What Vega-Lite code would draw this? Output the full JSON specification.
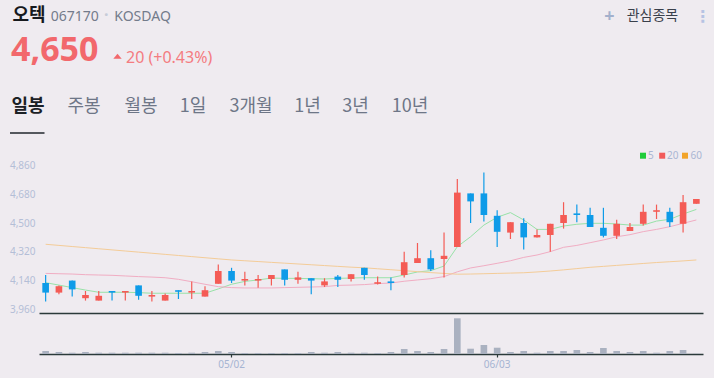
{
"$schema": "https://vega.github.io/schema/vega-lite/v6.json",
"width": 714, "height": 378,
"autosize": {"type": "none"},
"padding": 0,
"background": "#efebf0",
"config": {"view": {"stroke": null}, "font": "Noto Sans", "axis": {"labelFont": "Noto Sans"}},
"datasets": {"stock": [
{"d":"04/11","o":4125,"h":4175,"l":4010,"c":4065,"v":300,"5":4127,"20":4185,"60":4367},
{"d":"04/12","o":4065,"h":4110,"l":4055,"c":4105,"v":200,"5":4112,"20":4183,"60":4360},
{"d":"04/15","o":4140,"h":4140,"l":4040,"c":4085,"v":130,"5":4096,"20":4181,"60":4353},
{"d":"04/16","o":4030,"h":4075,"l":4015,"c":4050,"v":200,"5":4081,"20":4177,"60":4346},
{"d":"04/17","o":4015,"h":4075,"l":4015,"c":4045,"v":130,"5":4067,"20":4175,"60":4339},
{"d":"04/18","o":4075,"h":4075,"l":4015,"c":4065,"v":130,"5":4067,"20":4173,"60":4332},
{"d":"04/19","o":4065,"h":4075,"l":4015,"c":4075,"v":130,"5":4067,"20":4169,"60":4325},
{"d":"04/22","o":4110,"h":4110,"l":4020,"c":4045,"v":130,"5":4065,"20":4165,"60":4318},
{"d":"04/23","o":4040,"h":4075,"l":4010,"c":4050,"v":130,"5":4061,"20":4162,"60":4311},
{"d":"04/24","o":4015,"h":4060,"l":4015,"c":4050,"v":130,"5":4061,"20":4158,"60":4304},
{"d":"04/25","o":4080,"h":4080,"l":4025,"c":4070,"v":100,"5":4061,"20":4148,"60":4297},
{"d":"04/26","o":4065,"h":4135,"l":4025,"c":4075,"v":130,"5":4061,"20":4133,"60":4290},
{"d":"04/29","o":4040,"h":4105,"l":4040,"c":4080,"v":200,"5":4061,"20":4117,"60":4283},
{"d":"04/30","o":4120,"h":4240,"l":4120,"c":4200,"v":300,"5":4088,"20":4102,"60":4276},
{"d":"05/02","o":4200,"h":4220,"l":4125,"c":4140,"v":200,"5":4117,"20":4096,"60":4269},
{"d":"05/03","o":4140,"h":4195,"l":4110,"c":4150,"v":100,"5":4135,"20":4094,"60":4264},
{"d":"05/07","o":4140,"h":4175,"l":4095,"c":4150,"v":100,"5":4144,"20":4094,"60":4259},
{"d":"05/08","o":4150,"h":4175,"l":4110,"c":4175,"v":100,"5":4156,"20":4094,"60":4254},
{"d":"05/09","o":4210,"h":4210,"l":4110,"c":4145,"v":100,"5":4154,"20":4096,"60":4249},
{"d":"05/10","o":4145,"h":4195,"l":4120,"c":4160,"v":100,"5":4154,"20":4098,"60":4244},
{"d":"05/13","o":4155,"h":4155,"l":4055,"c":4140,"v":200,"5":4152,"20":4100,"60":4239},
{"d":"05/14","o":4110,"h":4155,"l":4100,"c":4135,"v":130,"5":4150,"20":4102,"60":4234},
{"d":"05/16","o":4165,"h":4175,"l":4100,"c":4145,"v":200,"5":4154,"20":4110,"60":4229},
{"d":"05/17","o":4150,"h":4180,"l":4135,"c":4180,"v":130,"5":4156,"20":4112,"60":4224},
{"d":"05/20","o":4220,"h":4220,"l":4145,"c":4175,"v":130,"5":4158,"20":4115,"60":4220},
{"d":"05/21","o":4120,"h":4165,"l":4115,"c":4130,"v":100,"5":4158,"20":4121,"60":4214},
{"d":"05/22","o":4135,"h":4160,"l":4080,"c":4125,"v":200,"5":4158,"20":4125,"60":4208},
{"d":"05/23","o":4175,"h":4320,"l":4160,"c":4255,"v":500,"5":4175,"20":4136,"60":4202},
{"d":"05/24","o":4250,"h":4375,"l":4250,"c":4280,"v":300,"5":4194,"20":4144,"60":4196},
{"d":"05/27","o":4280,"h":4330,"l":4200,"c":4210,"v":200,"5":4202,"20":4152,"60":4190},
{"d":"05/28","o":4275,"h":4440,"l":4160,"c":4295,"v":500,"5":4231,"20":4165,"60":4185},
{"d":"05/29","o":4350,"h":4775,"l":4350,"c":4690,"v":3570,"5":4352,"20":4195,"60":4180},
{"d":"05/30","o":4685,"h":4685,"l":4500,"c":4635,"v":530,"5":4414,"20":4219,"60":4181},
{"d":"05/31","o":4685,"h":4815,"l":4510,"c":4550,"v":900,"5":4487,"20":4233,"60":4183},
{"d":"06/03","o":4545,"h":4580,"l":4350,"c":4445,"v":630,"5":4536,"20":4248,"60":4185},
{"d":"06/04","o":4440,"h":4505,"l":4400,"c":4505,"v":200,"5":4565,"20":4264,"60":4187},
{"d":"06/05","o":4500,"h":4530,"l":4335,"c":4410,"v":300,"5":4519,"20":4285,"60":4189},
{"d":"06/07","o":4410,"h":4460,"l":4410,"c":4425,"v":130,"5":4460,"20":4300,"60":4194},
{"d":"06/10","o":4425,"h":4495,"l":4320,"c":4495,"v":300,"5":4460,"20":4321,"60":4200},
{"d":"06/11","o":4500,"h":4630,"l":4465,"c":4550,"v":300,"5":4481,"20":4348,"60":4207},
{"d":"06/12","o":4560,"h":4615,"l":4505,"c":4550,"v":400,"5":4492,"20":4360,"60":4215},
{"d":"06/13","o":4550,"h":4595,"l":4475,"c":4475,"v":200,"5":4498,"20":4377,"60":4223},
{"d":"06/14","o":4470,"h":4595,"l":4410,"c":4420,"v":600,"5":4498,"20":4394,"60":4229},
{"d":"06/17","o":4420,"h":4520,"l":4400,"c":4495,"v":300,"5":4494,"20":4414,"60":4235},
{"d":"06/18","o":4450,"h":4500,"l":4450,"c":4475,"v":200,"5":4487,"20":4427,"60":4241},
{"d":"06/19","o":4495,"h":4615,"l":4485,"c":4570,"v":300,"5":4487,"20":4446,"60":4247},
{"d":"06/20","o":4570,"h":4615,"l":4525,"c":4580,"v":130,"5":4512,"20":4460,"60":4253},
{"d":"06/21","o":4570,"h":4595,"l":4475,"c":4505,"v":300,"5":4523,"20":4477,"60":4258},
{"d":"06/24","o":4495,"h":4675,"l":4440,"c":4630,"v":400,"5":4556,"20":4498,"60":4263},
{"d":"06/25","o":4620,"h":4650,"l":4620,"c":4650,"v":30,"5":4585,"20":4519,"60":4269}
]},
"resolve": {"scale": {"x": "independent", "y": "independent"}, "axis": {"x": "independent", "y": "independent"}},
"layer": [
{
 "data": {"name": "stock"},
 "encoding": {"x": {"field": "d", "type": "nominal", "sort": null,
   "scale": {"type": "band", "domain": ["04/11","04/12","04/15","04/16","04/17","04/18","04/19","04/22","04/23","04/24","04/25","04/26","04/29","04/30","05/02","05/03","05/07","05/08","05/09","05/10","05/13","05/14","05/16","05/17","05/20","05/21","05/22","05/23","05/24","05/27","05/28","05/29","05/30","05/31","06/03","06/04","06/05","06/07","06/10","06/11","06/12","06/13","06/14","06/17","06/18","06/19","06/20","06/21","06/24","06/25"], "range": [39, 703], "paddingInner": 0, "paddingOuter": 0},
   "axis": {"orient": "bottom", "offset": -65, "labels": false, "ticks": false, "grid": false, "domain": true, "domainColor": "#2b3a3a", "domainWidth": 1.3, "title": null}}},
 "layer": [
  {"transform": [{"fold": ["5", "20", "60"], "as": ["ma", "val"]}],
   "mark": {"type": "line", "strokeWidth": 1, "opacity": 1},
   "encoding": {
    "y": {"field": "val", "type": "quantitative", "title": null,
      "scale": {"domain": [3937.5, 4987.5], "range": [313, 145], "nice": false, "zero": false},
      "axis": {"orient": "left", "offset": -39, "values": [3960, 4140, 4320, 4500, 4680, 4860], "labelExpr": "format(datum.value, ',')", "ticks": false, "domain": false, "grid": false, "labelColor": "#b4bed7", "labelFontSize": 10, "labelPadding": 4, "title": null}},
    "color": {"field": "ma", "type": "nominal",
      "scale": {"domain": ["5", "20", "60"], "range": ["#98e2a8", "#f1adc3", "#f4cc98"]},
      "legend": null}
   }},
  {"mark": {"type": "rule", "strokeWidth": 1.2},
   "encoding": {
    "y": {"field": "l", "type": "quantitative", "title": null,
      "axis": {"orient": "left", "offset": -39, "values": [3960, 4140, 4320, 4500, 4680, 4860], "labelExpr": "format(datum.value, ',')", "ticks": false, "domain": false, "grid": false, "labelColor": "#b4bed7", "labelFontSize": 10, "labelPadding": 4, "title": null}},
    "y2": {"field": "h"},
    "color": {"condition": {"test": "datum.c >= datum.o", "value": "#f45b55"}, "value": "#0e9be8"}
   }},
  {"mark": {"type": "bar", "width": {"band": 0.5}},
   "encoding": {
    "y": {"field": "o", "type": "quantitative", "title": null,
      "axis": {"orient": "left", "offset": -39, "values": [3960, 4140, 4320, 4500, 4680, 4860], "labelExpr": "format(datum.value, ',')", "ticks": false, "domain": false, "grid": false, "labelColor": "#b4bed7", "labelFontSize": 10, "labelPadding": 4, "title": null}},
    "y2": {"field": "c"},
    "color": {"condition": {"test": "datum.c >= datum.o", "value": "#f45b55"}, "value": "#0e9be8"}
   }}
 ]
},
{
 "data": {"name": "stock"},
 "mark": {"type": "bar", "width": {"band": 0.5}, "color": "#aab1c0"},
 "encoding": {
  "x": {"field": "d", "type": "nominal", "sort": null,
   "scale": {"type": "band", "domain": ["04/11","04/12","04/15","04/16","04/17","04/18","04/19","04/22","04/23","04/24","04/25","04/26","04/29","04/30","05/02","05/03","05/07","05/08","05/09","05/10","05/13","05/14","05/16","05/17","05/20","05/21","05/22","05/23","05/24","05/27","05/28","05/29","05/30","05/31","06/03","06/04","06/05","06/07","06/10","06/11","06/12","06/13","06/14","06/17","06/18","06/19","06/20","06/21","06/24","06/25"], "range": [39, 703], "paddingInner": 0, "paddingOuter": 0},
   "axis": {"orient": "bottom", "offset": -24, "values": ["05/02", "06/03"], "ticks": true, "tickSize": 3, "tickColor": "#2b3a3a", "tickWidth": 1.2, "domain": true, "domainColor": "#2b3a3a", "domainWidth": 1.3, "labelColor": "#a6b4d2", "labelFontSize": 10, "labelPadding": 2, "labelAngle": 0, "grid": false, "title": null}},
  "y": {"field": "v", "type": "quantitative", "scale": {"domain": [0, 4100], "range": [354, 313], "nice": false}, "axis": null}
 }
},
{
 "layer": [
  {"data": {"values": [{"t": "오텍"}]},
   "mark": {"type": "text", "align": "left", "baseline": "alphabetic", "font": "Noto Sans CJK KR", "fontSize": 18, "fontWeight": "bold", "color": "#16191d"},
   "encoding": {"text": {"field": "t"},
    "x": {"datum": 12.5, "type": "quantitative", "scale": {"domain": [0, 714], "nice": false, "zero": false}, "axis": null},
    "y": {"datum": 20.5, "type": "quantitative", "scale": {"domain": [0, 378], "reverse": true, "nice": false, "zero": false}, "axis": null}}},
  {"data": {"values": [{"t": "067170"}]},
   "mark": {"type": "text", "align": "left", "baseline": "alphabetic", "font": "Noto Sans", "fontSize": 14, "color": "#737b8b"},
   "encoding": {"text": {"field": "t"}, "x": {"datum": 50.7, "type": "quantitative"}, "y": {"datum": 20.7, "type": "quantitative"}}},
  {"data": {"values": [{"t": "·"}]},
   "mark": {"type": "text", "align": "center", "baseline": "alphabetic", "font": "Noto Sans", "fontSize": 16, "fontWeight": "bold", "color": "#c6cbd8"},
   "encoding": {"text": {"field": "t"}, "x": {"datum": 106.2, "type": "quantitative"}, "y": {"datum": 19.5, "type": "quantitative"}}},
  {"data": {"values": [{"t": "KOSDAQ"}]},
   "mark": {"type": "text", "align": "left", "baseline": "alphabetic", "font": "Noto Sans", "fontSize": 14, "color": "#737b8b"},
   "encoding": {"text": {"field": "t"}, "x": {"datum": 114.3, "type": "quantitative"}, "y": {"datum": 20.7, "type": "quantitative"}}},
  {"data": {"values": [{"t": "4,650"}]},
   "mark": {"type": "text", "align": "left", "baseline": "alphabetic", "font": "Noto Sans", "fontSize": 34, "fontWeight": "bold", "color": "#f2686c"},
   "encoding": {"text": {"field": "t"}, "x": {"datum": 11, "type": "quantitative"}, "y": {"datum": 61, "type": "quantitative"}}},
  {"data": {"values": [{"t": "up"}]},
   "mark": {"type": "point", "shape": "M-1,0.6L1,0.6L0,-0.6Z", "filled": true, "size": 70, "color": "#f2686c", "opacity": 1},
   "encoding": {"x": {"datum": 117.5, "type": "quantitative"}, "y": {"datum": 56.3, "type": "quantitative"}}},
  {"data": {"values": [{"t": "20 (+0.43%)"}]},
   "mark": {"type": "text", "align": "left", "baseline": "alphabetic", "font": "Noto Sans", "fontSize": 16, "color": "#f47c80"},
   "encoding": {"text": {"field": "t"}, "x": {"datum": 126, "type": "quantitative"}, "y": {"datum": 63, "type": "quantitative"}}},
  {"data": {"values": [{"t": "일봉"}]},
   "mark": {"type": "text", "align": "center", "baseline": "alphabetic", "font": "Noto Sans CJK KR", "fontSize": 18, "fontWeight": "bold", "color": "#1c2126"},
   "encoding": {"text": {"field": "t"}, "x": {"datum": 28, "type": "quantitative"}, "y": {"datum": 112, "type": "quantitative"}}},
  {"data": {"values": [{"t": "주봉"}]},
   "mark": {"type": "text", "align": "center", "baseline": "alphabetic", "font": "Noto Sans CJK KR", "fontSize": 18, "color": "#6e7687"},
   "encoding": {"text": {"field": "t"}, "x": {"datum": 84, "type": "quantitative"}, "y": {"datum": 112, "type": "quantitative"}}},
  {"data": {"values": [{"t": "월봉"}]},
   "mark": {"type": "text", "align": "center", "baseline": "alphabetic", "font": "Noto Sans CJK KR", "fontSize": 18, "color": "#6e7687"},
   "encoding": {"text": {"field": "t"}, "x": {"datum": 141, "type": "quantitative"}, "y": {"datum": 112, "type": "quantitative"}}},
  {"data": {"values": [{"t": "1일"}]},
   "mark": {"type": "text", "align": "center", "baseline": "alphabetic", "font": "Noto Sans CJK KR", "fontSize": 18, "color": "#6e7687"},
   "encoding": {"text": {"field": "t"}, "x": {"datum": 193, "type": "quantitative"}, "y": {"datum": 112, "type": "quantitative"}}},
  {"data": {"values": [{"t": "3개월"}]},
   "mark": {"type": "text", "align": "center", "baseline": "alphabetic", "font": "Noto Sans CJK KR", "fontSize": 18, "color": "#6e7687"},
   "encoding": {"text": {"field": "t"}, "x": {"datum": 251, "type": "quantitative"}, "y": {"datum": 112, "type": "quantitative"}}},
  {"data": {"values": [{"t": "1년"}]},
   "mark": {"type": "text", "align": "center", "baseline": "alphabetic", "font": "Noto Sans CJK KR", "fontSize": 18, "color": "#6e7687"},
   "encoding": {"text": {"field": "t"}, "x": {"datum": 307.5, "type": "quantitative"}, "y": {"datum": 112, "type": "quantitative"}}},
  {"data": {"values": [{"t": "3년"}]},
   "mark": {"type": "text", "align": "center", "baseline": "alphabetic", "font": "Noto Sans CJK KR", "fontSize": 18, "color": "#6e7687"},
   "encoding": {"text": {"field": "t"}, "x": {"datum": 355.5, "type": "quantitative"}, "y": {"datum": 112, "type": "quantitative"}}},
  {"data": {"values": [{"t": "10년"}]},
   "mark": {"type": "text", "align": "center", "baseline": "alphabetic", "font": "Noto Sans CJK KR", "fontSize": 18, "color": "#6e7687"},
   "encoding": {"text": {"field": "t"}, "x": {"datum": 410, "type": "quantitative"}, "y": {"datum": 112, "type": "quantitative"}}},
  {"data": {"values": [{"t": "tab"}]},
   "mark": {"type": "rule", "color": "#22272e", "strokeWidth": 1.5},
   "encoding": {"x": {"datum": 10, "type": "quantitative"}, "x2": {"datum": 44.5}, "y": {"datum": 133, "type": "quantitative"}}},
  {"data": {"values": [{"t": "+"}]},
   "mark": {"type": "text", "align": "center", "baseline": "alphabetic", "font": "Noto Sans", "fontSize": 18, "fontWeight": "bold", "color": "#a3b0cc"},
   "encoding": {"text": {"field": "t"}, "x": {"datum": 609.3, "type": "quantitative"}, "y": {"datum": 22, "type": "quantitative"}}},
  {"data": {"values": [{"t": "관심종목"}]},
   "mark": {"type": "text", "align": "left", "baseline": "alphabetic", "font": "Noto Sans CJK KR", "fontSize": 14, "color": "#3a404b"},
   "encoding": {"text": {"field": "t"}, "x": {"datum": 626.7, "type": "quantitative"}, "y": {"datum": 19.8, "type": "quantitative"}}},
  {"data": {"values": [{"t": "⋮"}]},
   "mark": {"type": "text", "align": "center", "baseline": "alphabetic", "font": "DejaVu Sans", "fontSize": 16, "fontWeight": "bold", "color": "#b6c3e3"},
   "encoding": {"text": {"field": "t"}, "x": {"datum": 702.5, "type": "quantitative"}, "y": {"datum": 22, "type": "quantitative"}}},
  {"data": {"values": [{"ma": "5"}]},
   "mark": {"type": "point", "shape": "square", "filled": true, "size": 36, "strokeWidth": 0, "color": "#1fcc3a", "opacity": 1},
   "encoding": {"x": {"datum": 643, "type": "quantitative"}, "y": {"datum": 155.7, "type": "quantitative"}}},
  {"data": {"values": [{"ma": "20"}]},
   "mark": {"type": "point", "shape": "square", "filled": true, "size": 36, "strokeWidth": 0, "color": "#f25a5a", "opacity": 1},
   "encoding": {"x": {"datum": 662.2, "type": "quantitative"}, "y": {"datum": 155.7, "type": "quantitative"}}},
  {"data": {"values": [{"ma": "60"}]},
   "mark": {"type": "point", "shape": "square", "filled": true, "size": 36, "strokeWidth": 0, "color": "#f2a42a", "opacity": 1},
   "encoding": {"x": {"datum": 685, "type": "quantitative"}, "y": {"datum": 155.7, "type": "quantitative"}}},
  {"data": {"values": [{"ma": "5"}]},
   "mark": {"type": "text", "align": "left", "baseline": "alphabetic", "font": "Noto Sans", "fontSize": 10, "color": "#aab6d3"},
   "encoding": {"text": {"field": "ma"}, "x": {"datum": 648, "type": "quantitative"}, "y": {"datum": 159.3, "type": "quantitative"}}},
  {"data": {"values": [{"ma": "20"}]},
   "mark": {"type": "text", "align": "left", "baseline": "alphabetic", "font": "Noto Sans", "fontSize": 10, "color": "#aab6d3"},
   "encoding": {"text": {"field": "ma"}, "x": {"datum": 667, "type": "quantitative"}, "y": {"datum": 159.3, "type": "quantitative"}}},
  {"data": {"values": [{"ma": "60"}]},
   "mark": {"type": "text", "align": "left", "baseline": "alphabetic", "font": "Noto Sans", "fontSize": 10, "color": "#aab6d3"},
   "encoding": {"text": {"field": "ma"}, "x": {"datum": 690.5, "type": "quantitative"}, "y": {"datum": 159.3, "type": "quantitative"}}}
 ]
}
]
}
